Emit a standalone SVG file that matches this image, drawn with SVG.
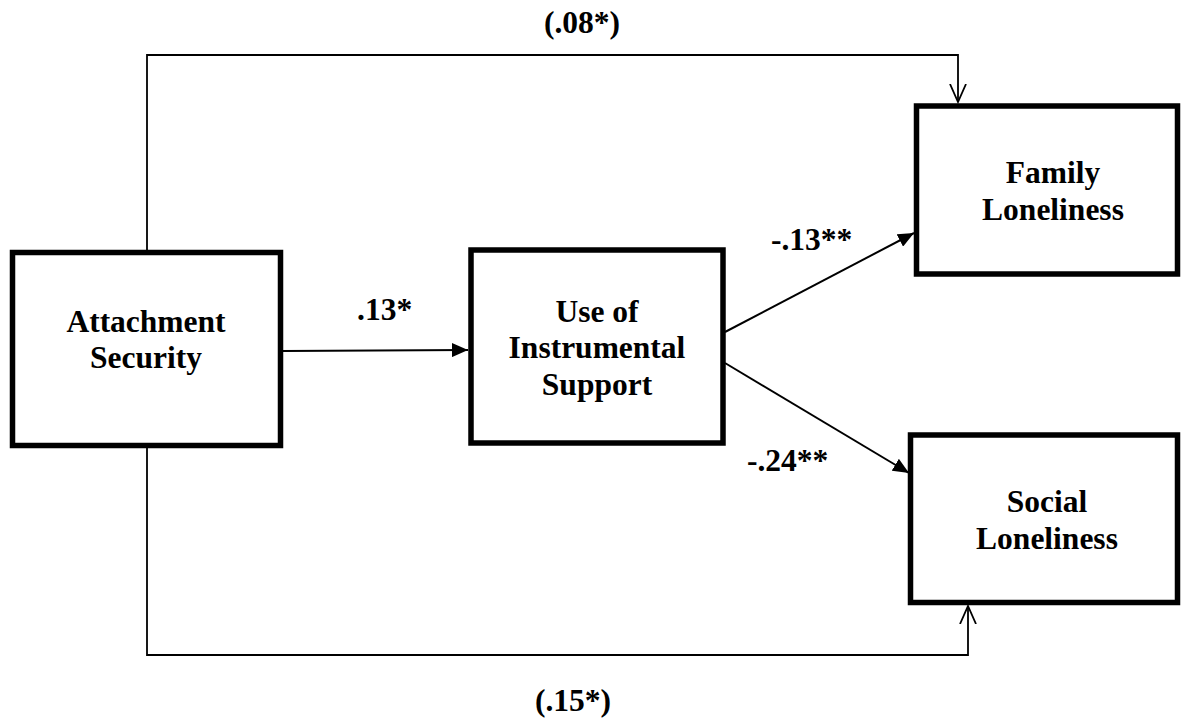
<svg xmlns="http://www.w3.org/2000/svg" width="1183" height="719" viewBox="0 0 1183 719">
<style>
.box{fill:#fff;stroke:#000;stroke-width:5.5}
.t{font-family:"Liberation Serif","Times New Roman",serif;font-weight:bold;font-size:31.5px;fill:#000;text-anchor:middle}
.l{font-family:"Liberation Serif","Times New Roman",serif;font-weight:bold;font-size:31.5px;fill:#000}
.c{fill:none;stroke:#000;stroke-width:2}
.o{fill:none;stroke:#000;stroke-width:1.8}
</style>
<defs>
<marker id="tri" markerUnits="userSpaceOnUse" markerWidth="18" markerHeight="14" refX="16" refY="7" orient="auto">
<path d="M0,0 L16,7 L0,14 Z" fill="#000"/>
</marker>
<marker id="vee" markerUnits="userSpaceOnUse" markerWidth="20" markerHeight="20" refX="18" refY="10" orient="auto">
<path d="M0,2 L18,10 L0,18" fill="none" stroke="#000" stroke-width="1.8"/>
</marker>
</defs>
<g id="connectors">
<path class="o" d="M147,250 V55 H958 V102" marker-end="url(#vee)"/>
<path class="o" d="M147,448 V655 H968 V606" marker-end="url(#vee)"/>
<line class="c" x1="283" y1="351" x2="468" y2="350" marker-end="url(#tri)"/>
<line class="c" x1="725" y1="332" x2="914" y2="233" marker-end="url(#tri)"/>
<line class="c" x1="725" y1="363" x2="909" y2="473" marker-end="url(#tri)"/>
</g>
<g id="labels">
<text class="l" x="544" y="33">(.08*)</text>
<text class="l" x="535" y="711">(.15*)</text>
<text class="l" x="357" y="320">.13*</text>
<text class="l" x="771" y="250">-.13**</text>
<text class="l" x="747" y="471">-.24**</text>
</g>
<g id="attachment">
<rect class="box" x="12.5" y="252.5" width="268" height="193"/>
<text class="t" x="146" y="332">Attachment</text>
<text class="t" x="146" y="368">Security</text>
</g>
<g id="instrumental">
<rect class="box" x="471" y="250" width="252" height="193"/>
<text class="t" x="597" y="322">Use of</text>
<text class="t" x="597" y="358">Instrumental</text>
<text class="t" x="597" y="395">Support</text>
</g>
<g id="family">
<rect class="box" x="916.5" y="106" width="261" height="168"/>
<text class="t" x="1053" y="183">Family</text>
<text class="t" x="1053" y="220">Loneliness</text>
</g>
<g id="social">
<rect class="box" x="910.5" y="435" width="267" height="167.5"/>
<text class="t" x="1047" y="512">Social</text>
<text class="t" x="1047" y="549">Loneliness</text>
</g>
</svg>
